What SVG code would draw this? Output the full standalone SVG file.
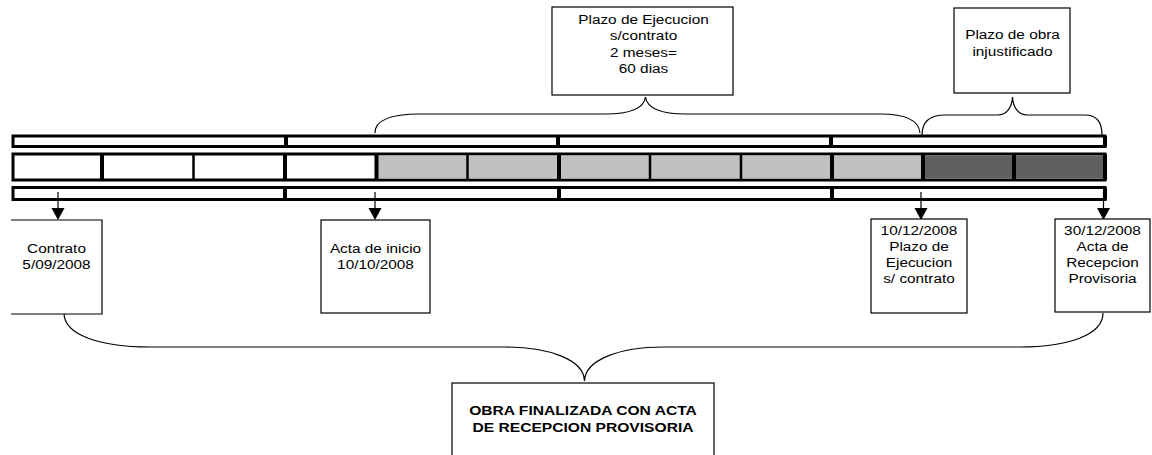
<svg xmlns="http://www.w3.org/2000/svg" width="1152" height="455" viewBox="0 0 1152 455">
<defs>
<style>
.box{fill:#fff;stroke:#000;stroke-width:1.2}
.t{font-family:"Liberation Sans",Arial,sans-serif;font-size:12px;fill:#000;text-anchor:middle}
.tb{font-family:"Liberation Sans",Arial,sans-serif;font-size:12.2px;font-weight:bold;fill:#000;text-anchor:middle}
.band{fill:#fff;stroke:#000;stroke-width:3}
.dv{stroke:#000;stroke-width:4;fill:none}
.dvt{stroke:#000;stroke-width:2.5;fill:none}
.lg{fill:#c0c0c0}
.dg{fill:#606060}
.brace{fill:none;stroke:#000;stroke-width:1.2}
.arr{stroke:#000;stroke-width:1.2;fill:none}
.head{fill:#000}
</style>
</defs>
<g id="timeline">
<rect class="band" x="13" y="136" width="1092" height="10.5"/>
<rect class="band" x="13" y="154" width="1092" height="26"/>
<rect class="band" x="13" y="187.5" width="1092" height="12"/>
<rect class="lg" x="377" y="155.5" width="545" height="23"/>
<rect class="dg" x="923" y="155.5" width="182" height="23"/>
<path class="dv" d="M286,136V146.5M558,136V146.5M831,136V146.5M1105,136V146.5"/>
<path class="dv" d="M285,187.5V199.5M559,187.5V199.5M832,187.5V199.5M1105,187.5V199.5"/>
<path class="dv" d="M102,154V180M285,154V180M376.5,154V180M559,154V180M832,154V180M923,154V180M1014,154V180M1105,154V180"/>
<path class="dvt" d="M193.5,154V180M467.5,154V180M650,154V180M741,154V180"/>
</g>
<g id="connectors">
<path class="brace" d="M375,133 C375,120 392,114 420,114 L605,114 C630,114 644,108 645.5,97 C647,108 661,114 686,114 L880,114 C905,114 919,120 920,133"/>
<path class="brace" d="M922,135 C922,122 930,115 945,115 L998,115 C1006,115 1012,108 1012.5,97 C1013,108 1019,115 1027,115 L1085,115 C1096,115 1102,122 1102,135"/>
<path class="brace" d="M64,313 C64,335 100,347 150,347 L505,347 C550,347 584,360 584.5,381 C585,360 619,347 664,347 L1020,347 C1068,347 1103,335 1103,313"/>
<path class="arr" d="M58,192V209M375,192V209M921,192V209M1103.5,192V209"/>
<polygon class="head" points="51.5,208 64.5,208 58,220"/>
<polygon class="head" points="368.5,208 381.5,208 375,220"/>
<polygon class="head" points="914.5,208 927.5,208 921,220"/>
<polygon class="head" points="1097,208 1110,208 1103.5,220"/>
</g>
<g id="plazo-ejecucion">
<rect class="box" x="552" y="7" width="181" height="88"/>
<text class="t" transform="translate(643.5,0) scale(1.28,1)"><tspan x="0" y="24">Plazo de Ejecucion</tspan><tspan x="0" y="40.5">s/contrato</tspan><tspan x="0" y="57">2 meses=</tspan><tspan x="0" y="73.5">60 dias</tspan></text>
</g>
<g id="plazo-obra">
<rect class="box" x="954" y="8" width="116" height="85"/>
<text class="t" transform="translate(1012.5,0) scale(1.28,1)"><tspan x="0" y="39.5">Plazo de obra</tspan><tspan x="0" y="56">injustificado</tspan></text>
</g>
<g id="contrato">
<path class="box" d="M11,220H102V314H11"/>
<text class="t" transform="translate(56.5,0) scale(1.28,1)"><tspan x="0" y="253">Contrato</tspan><tspan x="0" y="269">5/09/2008</tspan></text>
</g>
<g id="acta-inicio">
<rect class="box" x="321" y="220" width="109" height="93"/>
<text class="t" transform="translate(375.5,0) scale(1.28,1)"><tspan x="0" y="253">Acta de inicio</tspan><tspan x="0" y="269">10/10/2008</tspan></text>
</g>
<g id="plazo-contrato">
<rect class="box" x="871" y="219" width="96" height="94"/>
<text class="t" transform="translate(919,0) scale(1.28,1)"><tspan x="0" y="235">10/12/2008</tspan><tspan x="0" y="251">Plazo de</tspan><tspan x="0" y="267">Ejecucion</tspan><tspan x="0" y="283">s/ contrato</tspan></text>
</g>
<g id="acta-recepcion">
<rect class="box" x="1055" y="219" width="95" height="93"/>
<text class="t" transform="translate(1102.5,0) scale(1.28,1)"><tspan x="0" y="235">30/12/2008</tspan><tspan x="0" y="251">Acta de</tspan><tspan x="0" y="267">Recepcion</tspan><tspan x="0" y="283">Provisoria</tspan></text>
</g>
<g id="obra-finalizada">
<rect class="box" x="452" y="383" width="262" height="90"/>
<text class="tb" transform="translate(583,0) scale(1.28,1)"><tspan x="0" y="415">OBRA FINALIZADA CON ACTA</tspan><tspan x="0" y="432">DE RECEPCION PROVISORIA</tspan></text>
</g>
</svg>
